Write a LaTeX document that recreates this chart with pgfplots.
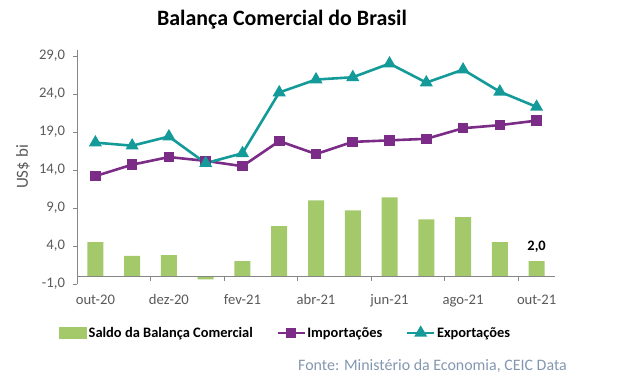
\documentclass[border=0pt]{standalone}
\usepackage{pgfplots}
\pgfplotsset{compat=1.18}
\usepackage{fontspec}
\setmainfont{Carlito}
\definecolor{barg}{HTML}{A3C96B}
\definecolor{imp}{HTML}{7B2C86}
\definecolor{expc}{HTML}{139A99}
\definecolor{axg}{HTML}{868686}
\definecolor{txg}{HTML}{595959}
\definecolor{src}{HTML}{8497B0}
\pgfplotsset{
  barlegend/.style={legend image code/.code={\fill[barg] (0bp,-6bp) rectangle (28bp,6bp);}},
  implegend/.style={legend image code/.code={\draw[imp, line width=2.6bp, mark=square*, mark size=4bp, mark repeat=2, mark phase=2] plot coordinates {(0bp,0bp) (13.5bp,0bp) (27bp,0bp)};}},
  explegend/.style={legend image code/.code={\draw[expc, line width=2.6bp, mark=triangle*, mark size=5bp, mark repeat=2, mark phase=2] plot coordinates {(0bp,0bp) (13.5bp,0bp) (27bp,0bp)};}},
}
\begin{document}
\begin{tikzpicture}
\useasboundingbox (0,0) rectangle (617bp,-386bp);
\node[font=\bfseries\fontsize{22}{26}\selectfont] at (282bp,-20bp) {Balança Comercial do Brasil};
\begin{axis}[
  at={(77bp,-284bp)}, anchor=south west,
  scale only axis, width=478bp, height=234.1bp,
  xmin=-0.5, xmax=12.5, ymin=-1, ymax=29.8,
  clip=false,
  axis y line*=left, axis x line*=bottom,
  x axis line style={draw=none},
  y axis line style={axg, line width=0.8bp},
  xtick={0,2,...,12},
  xticklabels={out-20,dez-20,fev-21,abr-21,jun-21,ago-21,out-21},
  x tick style={draw=none},
  ytick={-1,4,...,29},
  y tick style={axg, line width=0.8bp},
  tick align=outside, major tick length=4bp,
  /pgf/number format/.cd, fixed, fixed zerofill, precision=1, use comma, assume math mode=true, /pgfplots/.cd,
  yticklabel style={txg, font=\fontsize{14.7}{17}\selectfont, xshift=-4.5bp},
  xticklabel style={txg, font=\fontsize{14.7}{17}\selectfont, yshift=-3bp},
  ylabel={US\$ bi},
  ylabel style={txg, font=\fontsize{17}{20}\selectfont, at={(axis description cs:-0.113,0.5)}, anchor=center},
  legend columns=3,
  legend style={draw=none, fill=none, at={(axis description cs:0.436,-0.209)}, anchor=center,
    font=\bfseries\fontsize{14.5}{17}\selectfont,
    nodes={inner sep=1.5bp},
    /tikz/every even column/.append style={column sep=22bp}},
]
\addplot[ybar, bar width=16bp, fill=barg, draw=none, barlegend]
  coordinates {(0,4.5) (1,2.7) (2,2.8) (3,-0.4) (4,2.0) (5,6.6) (6,10.0) (7,8.7) (8,10.4) (9,7.5) (10,7.8) (11,4.5) (12,2.0)};
\addlegendentry{Saldo da Balança Comercial}
\addplot[imp, line width=2.6bp, mark=square*, mark size=4bp, mark options={solid}, implegend]
  coordinates {(0,13.2) (1,14.7) (2,15.7) (3,15.2) (4,14.5) (5,17.8) (6,16.1) (7,17.7) (8,17.9) (9,18.1) (10,19.5) (11,19.9) (12,20.5)};
\addlegendentry{Importações}
\addplot[expc, line width=2.6bp, mark=triangle*, mark size=5bp, mark options={solid}, explegend]
  coordinates {(0,17.6) (1,17.2) (2,18.4) (3,14.9) (4,16.2) (5,24.2) (6,25.9) (7,26.2) (8,28.0) (9,25.5) (10,27.2) (11,24.3) (12,22.3)};
\addlegendentry{Exportações}
\draw[axg, line width=0.8bp] (axis cs:-0.5,0) -- (axis cs:12.5,0);
\draw[axg, line width=0.8bp] (axis cs:1.5,0) -- (axis cs:1.5,-0.6);
\draw[axg, line width=0.8bp] (axis cs:3.5,0) -- (axis cs:3.5,-0.6);
\draw[axg, line width=0.8bp] (axis cs:5.5,0) -- (axis cs:5.5,-0.6);
\draw[axg, line width=0.8bp] (axis cs:7.5,0) -- (axis cs:7.5,-0.6);
\draw[axg, line width=0.8bp] (axis cs:9.5,0) -- (axis cs:9.5,-0.6);
\draw[axg, line width=0.8bp] (axis cs:11.5,0) -- (axis cs:11.5,-0.6);
\node[anchor=south, font=\bfseries\fontsize{14.5}{17}\selectfont, inner sep=0pt] at (axis cs:12,3.1) {2,0};
\end{axis}
\node[anchor=west, text=src, font=\fontsize{16}{19}\selectfont, inner sep=0pt] at (298bp,-366bp) {Fonte: Ministério da Economia, CEIC Data};
\end{tikzpicture}
\end{document}
